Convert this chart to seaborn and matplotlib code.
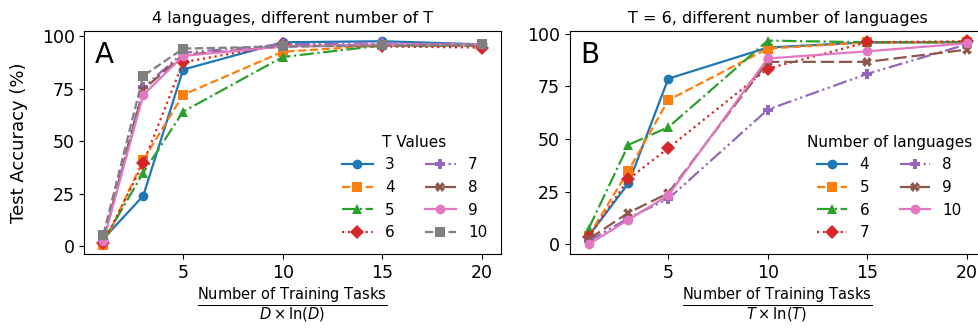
import matplotlib
matplotlib.use("Agg")
import matplotlib.pyplot as plt
import seaborn as sns
import pandas as pd

# ---- data ----
x_tasks = [1, 3, 5, 10, 15, 20]

t_labels = ["3", "4", "5", "6", "7", "8", "9", "10"]
acc_t3 = [3.5, 24, 84, 97, 97.5, 96]
acc_t4 = [0.5, 41, 72, 92.5, 95.5, 95.5]
acc_t5 = [2.5, 35, 64, 90, 95.5, 95.5]
acc_t6 = [1.5, 39.5, 87.5, 96, 95, 94.5]
acc_t7 = [3, 75.5, 92, 96, 96.5, 96]
acc_t8 = [3, 74.5, 91, 95, 95.5, 95.5]
acc_t9 = [2.5, 72, 90.5, 95, 96, 96]
acc_t10 = [5.5, 81, 94, 95, 95.5, 96]

lang_labels = ["4", "5", "6", "7", "8", "9", "10"]
acc_l4 = [4, 29, 78.7, 93.5, 96, 96]
acc_l5 = [4, 35, 68.5, 93, 96, 96]
acc_l6 = [7.5, 47.3, 55.6, 96.8, 96, 96]
acc_l7 = [3.5, 31, 45.7, 83.5, 96, 96.5]
acc_l8 = [1.5, 12.5, 21.6, 64, 81, 95]
acc_l9 = [2.5, 15, 24.3, 86.7, 86.7, 92.5]
acc_l10 = [0, 11.7, 23.3, 88.3, 91.7, 95.5]

series_a = [acc_t3, acc_t4, acc_t5, acc_t6, acc_t7, acc_t8, acc_t9, acc_t10]
series_b = [acc_l4, acc_l5, acc_l6, acc_l7, acc_l8, acc_l9, acc_l10]

rows_a = [(lab, xv, yv) for lab, ys in zip(t_labels, series_a) for xv, yv in zip(x_tasks, ys)]
df_a = pd.DataFrame(rows_a, columns=["T Values", "tasks", "acc"])
rows_b = [(lab, xv, yv) for lab, ys in zip(lang_labels, series_b) for xv, yv in zip(x_tasks, ys)]
df_b = pd.DataFrame(rows_b, columns=["Number of languages", "tasks", "acc"])

# ---- styles ----
colors = ["#1f77b4", "#ff7f0e", "#2ca02c", "#d62728", "#9467bd", "#8c564b", "#e377c2", "#7f7f7f"]
markers = ["o", "s", "^", "D", "P", "X", "o", "s"]
dashes = ["", (3.7, 1.6), (6.4, 1.6, 1, 1.6), (1, 1.65), (6.4, 1.6, 1, 1.6, 1, 1.6), (6, 2.2), "", (3.7, 1.6)]

plt.rcParams["font.family"] = ["DejaVu Sans"]
plt.rcParams["mathtext.fontset"] = "dejavusans"

fig = plt.figure(figsize=(9.79, 3.29), dpi=100)
axA = fig.add_axes([0.0863, 0.228, 0.4253, 0.678])
axB = fig.add_axes([0.582, 0.228, 0.4247, 0.678])

sns.lineplot(data=df_a, x="tasks", y="acc", hue="T Values", style="T Values",
             palette=colors[:8], markers=markers[:8], dashes=dashes[:8],
             markersize=7, linewidth=1.6, markeredgewidth=0, ax=axA)
sns.lineplot(data=df_b, x="tasks", y="acc", hue="Number of languages", style="Number of languages",
             palette=colors[:7], markers=markers[:7], dashes=dashes[:7],
             markersize=7, linewidth=1.6, markeredgewidth=0, ax=axB)

for ax, title, letter, ylim, var in [
    (axA, "4 languages, different number of T", "A", (-3.7, 102.4), "D"),
    (axB, "T = 6, different number of languages", "B", (-4.6, 101.4), "T"),
]:
    ax.set_xlim(0.05, 20.95)
    ax.set_ylim(*ylim)
    ax.set_xticks([5, 10, 15, 20])
    ax.set_yticks([0, 25, 50, 75, 100])
    ax.tick_params(labelsize=12.5)
    ax.set_title(title, fontsize=11.5)
    ax.set_xlabel(r"$\frac{\mathrm{Number\ of\ Training\ Tasks}}{%s \times \ln(%s)}$" % (var, var),
                  fontsize=15, labelpad=3)
    ax.set_ylabel("")
    ax.text(0.025, 0.955, letter, transform=ax.transAxes, fontsize=20, va="top", ha="left")

axA.set_ylabel("Test Accuracy (%)", fontsize=13, labelpad=10)

for ax, title in [(axA, "T Values"), (axB, "Number of languages")]:
    sns.move_legend(ax, "lower right", ncol=2, title=title, frameon=False,
                    fontsize=11, title_fontsize=11)

fig.savefig("out.png", dpi=100)
